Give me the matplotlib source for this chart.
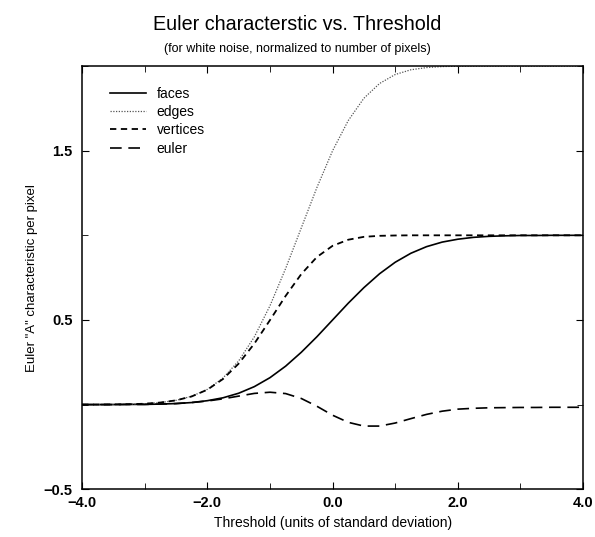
"""
euler characteristic vs threshold for white noise
"""
import matplotlib
matplotlib.use("Agg")
import matplotlib.pyplot as plt
from matplotlib.ticker import FixedLocator

# threshold (units of standard deviation)
threshold = [-4.0, -3.75, -3.5, -3.25, -3.0, -2.75, -2.5, -2.25, -2.0,
             -1.75, -1.5, -1.25, -1.0, -0.75, -0.5, -0.25, 0.0,
             0.25, 0.5, 0.75, 1.0, 1.25, 1.5, 1.75, 2.0,
             2.25, 2.5, 2.75, 3.0, 3.25, 3.5, 3.75, 4.0]

faces = [0.000, 0.000, 0.000, 0.001, 0.001, 0.003, 0.006, 0.012, 0.023,
         0.040, 0.067, 0.106, 0.159, 0.227, 0.309, 0.401, 0.500,
         0.599, 0.691, 0.773, 0.841, 0.894, 0.933, 0.960, 0.977,
         0.988, 0.994, 0.997, 0.999, 0.999, 1.000, 1.000, 1.000]

edges = [0.000, 0.000, 0.001, 0.002, 0.005, 0.012, 0.025, 0.049, 0.090,
         0.157, 0.258, 0.400, 0.584, 0.804, 1.044, 1.283, 1.500,
         1.678, 1.810, 1.897, 1.950, 1.978, 1.991, 1.997, 1.999,
         2.000, 2.000, 2.000, 2.000, 2.000, 2.000, 2.000, 2.000]

vertices = [0.000, 0.000, 0.001, 0.002, 0.005, 0.012, 0.025, 0.048, 0.088,
            0.151, 0.242, 0.360, 0.499, 0.642, 0.771, 0.872, 0.938,
            0.974, 0.991, 0.997, 0.999, 1.000, 1.000, 1.000, 1.000,
            1.000, 1.000, 1.000, 1.000, 1.000, 1.000, 1.000, 1.000]

euler = [0.000, 0.000, 0.000, 0.001, 0.001, 0.003, 0.006, 0.012, 0.021,
         0.034, 0.050, 0.066, 0.073, 0.065, 0.036, -0.010, -0.063,
         -0.105, -0.127, -0.127, -0.109, -0.083, -0.058, -0.039, -0.027,
         -0.022, -0.019, -0.018, -0.017, -0.017, -0.016, -0.016, -0.016]

plt.rcParams["font.family"] = ["Liberation Sans", "DejaVu Sans"]

fig = plt.figure(figsize=(5.95, 5.37), dpi=100, facecolor="white")
ax = fig.add_axes([0.138, 0.089, 0.842, 0.788])

# Draw Plot
ax.plot(threshold, faces, color="black", linewidth=1.2, label="faces")
ax.plot(threshold, edges, color="#555555", linewidth=0.9,
        linestyle=(0, (1, 1.2)), label="edges")
ax.plot(threshold, vertices, color="black", linewidth=1.3,
        linestyle=(0, (3.5, 2.5)), label="vertices")
ax.plot(threshold, euler, color="black", linewidth=1.2,
        linestyle=(0, (7, 4)), label="euler")

# Decoration
ax.set_xlim(-4.0, 4.0)
ax.set_ylim(-0.5, 2.0)
ax.set_xticks([-4.0, -2.0, 0.0, 2.0, 4.0])
ax.set_xticklabels(["\u22124.0", "\u22122.0", "0.0", "2.0", "4.0"],
                   fontweight="bold")
ax.xaxis.set_minor_locator(FixedLocator([-3.0, -1.0, 1.0, 3.0]))
ax.set_yticks([-0.5, 0.5, 1.5])
ax.set_yticklabels(["\u22120.5", "0.5", "1.5"], fontweight="bold")
ax.yaxis.set_minor_locator(FixedLocator([0.0, 1.0, 2.0]))
ax.tick_params(which="both", direction="in", top=True, right=True,
               labelsize=10.5)
ax.tick_params(which="major", length=5)
ax.tick_params(which="minor", length=4)
ax.tick_params(axis="x", pad=5)
ax.tick_params(axis="y", pad=7)
for spine in ax.spines.values():
    spine.set_linewidth(1.1)

ax.set_xlabel("Threshold (units of standard deviation)", fontsize=10,
              labelpad=4)
ax.set_ylabel("Euler \"A\" characteristic per pixel", fontsize=9.5,
              labelpad=4)

fig.text(0.5, 0.955, "Euler characterstic vs. Threshold", ha="center",
         va="center", fontsize=14.2)
fig.text(0.5, 0.908, "(for white noise, normalized to number of pixels)",
         ha="center", va="center", fontsize=9)

ax.legend(loc="upper left", bbox_to_anchor=(0.03, 0.98), frameon=False,
          fontsize=10, handlelength=2.6, labelspacing=0.3,
          handletextpad=0.8)

fig.savefig("out.png", dpi=100, facecolor="white")
